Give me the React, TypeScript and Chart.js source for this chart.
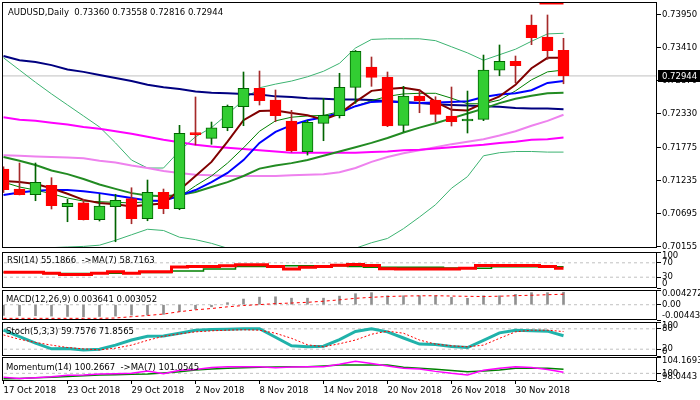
import React, { useEffect, useRef } from 'react';
import { Chart, registerables } from 'chart.js';

Chart.register(...registerables);

const FONT = 'DejaVu Sans';
const FS = 8.5;

// ---------- price data (daily bars, 17 Oct 2018 .. 5 Dec 2018) ----------
const opens = [0.71424, 0.71097, 0.71004, 0.71158, 0.70808, 0.70873, 0.70596, 0.70808, 0.70939, 0.70612, 0.71043, 0.70775, 0.72017, 0.71925, 0.72098, 0.72441, 0.72742, 0.72550, 0.72208, 0.71706, 0.72170, 0.72294, 0.72758, 0.73089, 0.72921, 0.72137, 0.72616, 0.72550, 0.72289, 0.72208, 0.72235, 0.73036, 0.73182, 0.73775, 0.73579, 0.73360];
const highs = [0.71460, 0.71522, 0.71522, 0.71282, 0.70929, 0.70930, 0.71011, 0.71011, 0.71118, 0.71244, 0.71097, 0.72137, 0.72600, 0.72191, 0.72469, 0.73008, 0.73024, 0.72714, 0.72382, 0.72220, 0.72578, 0.72987, 0.73360, 0.73253, 0.73008, 0.72774, 0.72714, 0.72604, 0.72763, 0.72697, 0.73285, 0.73449, 0.73269, 0.73939, 0.73939, 0.73558];
const lows = [0.71040, 0.71000, 0.70906, 0.70771, 0.70563, 0.70591, 0.70575, 0.70236, 0.70530, 0.70579, 0.70694, 0.70759, 0.71816, 0.71827, 0.72049, 0.72131, 0.72469, 0.72196, 0.71701, 0.71652, 0.71886, 0.72257, 0.72497, 0.72774, 0.72115, 0.72033, 0.72343, 0.72196, 0.72126, 0.72012, 0.72213, 0.72947, 0.72833, 0.73454, 0.73215, 0.72816];
const closes = [0.71086, 0.71004, 0.71207, 0.70824, 0.70864, 0.70596, 0.70820, 0.70913, 0.70612, 0.71043, 0.70775, 0.72007, 0.71984, 0.72098, 0.72448, 0.72742, 0.72539, 0.72294, 0.71723, 0.72186, 0.72301, 0.72758, 0.73346, 0.72921, 0.72126, 0.72616, 0.72534, 0.72317, 0.72196, 0.72240, 0.73040, 0.73182, 0.73111, 0.73568, 0.73356, 0.72944];

// ---------- main-chart indicators ----------
const maNavy = [0.7327, 0.7320, 0.7317, 0.7312, 0.7305, 0.7301, 0.7296, 0.7291, 0.7286, 0.7280, 0.7276, 0.7273, 0.7269, 0.7267, 0.7266, 0.7265, 0.7264, 0.7261, 0.7260, 0.7258, 0.7257, 0.7256, 0.7256, 0.7255, 0.7253, 0.7252, 0.7250, 0.7248, 0.7247, 0.7246, 0.7245, 0.7244, 0.7242, 0.7241, 0.7241, 0.7240];
const maMagenta = [0.7227, 0.7223, 0.7221, 0.7218, 0.7215, 0.7211, 0.7208, 0.7204, 0.7200, 0.7195, 0.7190, 0.7186, 0.7182, 0.7179, 0.7177, 0.7175, 0.7173, 0.7171, 0.7169, 0.7169, 0.7169, 0.7169, 0.7169, 0.7170, 0.7171, 0.7173, 0.7174, 0.7176, 0.7178, 0.7180, 0.7182, 0.7185, 0.7187, 0.7190, 0.7191, 0.7194];
const maViolet = [0.7165, 0.7164, 0.7163, 0.7162, 0.7161, 0.7160, 0.7156, 0.7153, 0.7148, 0.7144, 0.7139, 0.7136, 0.7133, 0.7132, 0.7131, 0.7131, 0.7131, 0.7131, 0.7132, 0.7133, 0.7134, 0.7137, 0.7144, 0.7154, 0.7162, 0.7168, 0.7173, 0.7178, 0.7183, 0.7187, 0.7191, 0.7197, 0.7204, 0.7213, 0.7221, 0.7231];
const maBlue = [0.7100, 0.7104, 0.7107, 0.7108, 0.7108, 0.7106, 0.7103, 0.7099, 0.7095, 0.7091, 0.7090, 0.7099, 0.7108, 0.7121, 0.7136, 0.7157, 0.7185, 0.7203, 0.7214, 0.7222, 0.7227, 0.7234, 0.7245, 0.7252, 0.7253, 0.7251, 0.7250, 0.7251, 0.7252, 0.7253, 0.7260, 0.7264, 0.7266, 0.7271, 0.7283, 0.7286];
const maMaroon = [0.7123, 0.7121, 0.7118, 0.7111, 0.7102, 0.7092, 0.7087, 0.7085, 0.7081, 0.7084, 0.7086, 0.7108, 0.7131, 0.7154, 0.7187, 0.7222, 0.7237, 0.7238, 0.7234, 0.7230, 0.7223, 0.7233, 0.7252, 0.7270, 0.7273, 0.7275, 0.7271, 0.7252, 0.7239, 0.7238, 0.7250, 0.7261, 0.7280, 0.7307, 0.7324, 0.7324];
const bbMid = [0.7162, 0.7156, 0.7149, 0.7140, 0.7134, 0.7126, 0.7117, 0.7110, 0.7103, 0.7099, 0.7098, 0.7100, 0.7105, 0.7113, 0.7121, 0.7131, 0.7143, 0.7148, 0.7152, 0.7157, 0.7164, 0.7171, 0.7178, 0.7185, 0.7193, 0.7202, 0.7210, 0.7217, 0.7225, 0.7233, 0.7241, 0.7250, 0.7257, 0.7262, 0.7266, 0.7267];
const maThinGreen = [0.7121, 0.7113, 0.7108, 0.7102, 0.7095, 0.7090, 0.7089, 0.7088, 0.7087, 0.7089, 0.7092, 0.7097, 0.7115, 0.7131, 0.7152, 0.7177, 0.7204, 0.7221, 0.7227, 0.7229, 0.7230, 0.7236, 0.7245, 0.7254, 0.7261, 0.7265, 0.7266, 0.7266, 0.7258, 0.7249, 0.7249, 0.7255, 0.7270, 0.7288, 0.7301, 0.7304];
const bbUpper = [0.7324, 0.7304, 0.7284, 0.7265, 0.7247, 0.7229, 0.7211, 0.7185, 0.7157, 0.7144, 0.7144, 0.7172, 0.7195, 0.7210, 0.7232, 0.7255, 0.7275, 0.7281, 0.7286, 0.7293, 0.7302, 0.7315, 0.7340, 0.7354, 0.7355, 0.7355, 0.7355, 0.7352, 0.7342, 0.7332, 0.7320, 0.7329, 0.7338, 0.7351, 0.7363, 0.7364];
const bbLower = [0.7002, 0.7010, 0.7014, 0.7014, 0.7015, 0.7016, 0.7018, 0.7026, 0.7035, 0.7044, 0.7042, 0.7031, 0.7027, 0.7021, 0.7013, 0.7010, 0.7008, 0.7008, 0.7009, 0.7010, 0.7011, 0.7012, 0.7013, 0.7022, 0.7029, 0.7045, 0.7064, 0.7084, 0.7111, 0.7130, 0.7164, 0.7169, 0.7171, 0.7171, 0.7170, 0.7170];
const topMarkIdx = [33.5, 35];
const topMarkVal = 0.74127;

const priceTicks = [0.70155, 0.70695, 0.71235, 0.71775, 0.7233, 0.7287, 0.7341, 0.7395];
const priceMin = 0.70134;
const priceMax = 0.74151;
const lastPrice = closes[closes.length - 1];

// ---------- RSI ----------
const rsi = [44, 44, 44, 41, 37.5, 37.5, 41, 45, 41, 45, 45, 58, 60, 60, 62, 64.4, 64.4, 60, 53, 57.8, 60, 63, 65.3, 62.5, 53.3, 53, 53, 53, 53, 55, 62.5, 62.5, 62.5, 62.5, 60, 55.1866];
const rsiMa = [44, 44, 44, 40, 40, 40, 41, 41, 41, 43, 43, 47, 47, 53, 53, 60, 60, 61.6, 61.6, 61.6, 61.6, 61.6, 60, 57.8, 57.8, 57.8, 57.8, 57.8, 55.5, 55, 55, 58.7, 58.7, 58.7, 58.7, 58.7163];
const rsiTicks = [100, 70, 30, 0];
const rsiLevels = [70, 30];

// ---------- MACD ----------
const macd = [-0.0031, -0.0032, -0.0032, -0.0033, -0.0034, -0.0035, -0.0034, -0.0033, -0.0030, -0.0030, -0.0028, -0.0020, -0.0013, -0.0006, 0.0006, 0.00165, 0.0022, 0.0023, 0.0019, 0.0019, 0.0019, 0.0025, 0.0032, 0.0035, 0.0026, 0.0026, 0.0026, 0.0026, 0.00215, 0.00186, 0.0026, 0.0026, 0.0030, 0.0035, 0.0035, 0.003641];
const macdSignal = [-0.00395, -0.00395, -0.00395, -0.00395, -0.00395, -0.00395, -0.00395, -0.00386, -0.00348, -0.00313, -0.0027, -0.00203, -0.00148, -0.0011, -0.00061, -0.00023, 0.00003, 0.00032, 0.00049, 0.0007, 0.00102, 0.00142, 0.00186, 0.00215, 0.00238, 0.00252, 0.00258, 0.00261, 0.00252, 0.00244, 0.00238, 0.00247, 0.00262, 0.00275, 0.0029, 0.003052];
const macdTicks = [0.004272, 0, -0.004433];
const macdTickLabels = ['0.004272', '0.00', '-0.004433'];

// ---------- Stochastic ----------
const stochMain = [76, 57, 38, 21, 22, 18, 20, 32, 47, 58, 59, 67, 76, 78, 79, 80, 80, 55, 30, 27, 29, 48, 72, 80, 71, 53, 35, 34, 28, 25, 46, 68, 76, 74, 73, 59.7576];
const stochSignal = [62, 49, 40, 32, 25, 21, 18, 23, 32, 46, 58, 65, 71, 74, 76, 77, 76, 67, 52, 33, 27, 36, 47, 64, 73, 67, 47, 35, 30, 27, 32, 52, 71, 76, 76, 71.8565];
const stochTicks = [100, 80, 20, 0];
const stochLevels = [80, 20];

// ---------- Momentum ----------
const momentum = [99.0, 98.7, 98.9, 99.1, 99.5, 99.6, 99.8, 99.9, 100.0, 100.6, 99.9, 100.8, 101.0, 101.5, 101.7, 101.7, 101.7, 101.4, 101.6, 101.7, 101.7, 102.3, 103.1, 102.5, 101.9, 101.3, 101.1, 100.5, 100.0, 99.6, 100.8, 101.3, 101.7, 101.5, 101.0, 100.2667];
const momentumMa = [98.6, 98.7, 98.85, 99.0, 99.2, 99.4, 99.58, 99.65, 99.75, 99.83, 100.1, 100.42, 100.85, 101.1, 101.29, 101.4, 101.54, 101.6, 101.69, 101.69, 101.9, 102.13, 102.13, 102.13, 102.13, 101.54, 101.3, 101.03, 100.7, 100.42, 100.6, 100.85, 101.29, 101.29, 101.29, 101.0545];
const momTicks = [104.1693, 100, 98.0443];
const momTickLabels = ['104.1693', '100', '98.0443'];
const momLevels = [100];

// ---------- date axis ----------
const dateTickIdx = [0, 4, 8, 12, 16, 20, 24, 28, 32];
const dateLabels = ['17 Oct 2018', '23 Oct 2018', '29 Oct 2018', '2 Nov 2018', '8 Nov 2018', '14 Nov 2018', '20 Nov 2018', '26 Nov 2018', '30 Nov 2018'];

// ---------- layout ----------
const X_MIN = -0.09375;
const X_MAX = 40.84375;
const AXIS_W = 43;

const pts = (arr: number[]) => arr.map((y, x) => ({ x, y }));

const lineDs = (data: number[], color: string, width: number, order: number, extra: any = {}) => ({
  type: 'line',
  data: pts(data),
  borderColor: color,
  borderWidth: width,
  pointRadius: 0,
  fill: false,
  tension: 0,
  clip: 0,
  order,
  ...extra,
});

const levelDs = (v: number) => ({
  type: 'line',
  data: [{ x: X_MIN - 1, y: v }, { x: X_MAX + 1, y: v }],
  borderColor: '#C0C0C0',
  borderWidth: 1,
  borderDash: [3, 3],
  pointRadius: 0,
  clip: 0,
  order: 50,
});

const xScale = (show: boolean) => ({
  type: 'linear',
  min: X_MIN,
  max: X_MAX,
  display: show,
  offset: false,
  grid: { display: show, offset: false, drawOnChartArea: false, drawTicks: true, tickLength: 3, tickColor: '#000', color: '#000' },
  border: { display: false },
  ticks: {
    autoSkip: false,
    maxRotation: 0,
    minRotation: 0,
    align: 'start',
    padding: 2,
    color: '#000',
    font: { family: FONT, size: FS },
    callback: (v: number) => {
      const k = dateTickIdx.indexOf(v);
      return k >= 0 ? dateLabels[k] : '';
    },
  },
  afterBuildTicks: (s: any) => {
    s.ticks = dateTickIdx.map((v) => ({ value: v }));
  },
  afterFit: (s: any) => {
    if (show) s.height = 19;
    s.paddingLeft = 0;
    s.paddingRight = 0;
  },
});

const yScale = (min: number, max: number, ticks: number[], label: (v: number, i: number) => string) => ({
  type: 'linear',
  position: 'right',
  min,
  max,
  grid: { drawOnChartArea: false, drawTicks: true, tickLength: 4, tickColor: '#000', color: '#000', tickWidth: 1 },
  border: { display: false },
  ticks: {
    autoSkip: false,
    padding: 1,
    color: '#000',
    font: { family: FONT, size: FS },
    callback: (v: number, i: number) => label(v, i),
  },
  afterBuildTicks: (s: any) => {
    s.ticks = ticks.map((v) => ({ value: v }));
  },
  afterFit: (s: any) => {
    s.width = AXIS_W;
    s.paddingTop = 0;
    s.paddingBottom = 0;
  },
});

const boxPlugin = {
  id: 'panelBox',
  afterDraw(chart: any) {
    const { ctx, chartArea: a } = chart;
    ctx.save();
    ctx.strokeStyle = '#000';
    ctx.lineWidth = 1;
    ctx.strokeRect(Math.round(a.left) + 0.5, Math.round(a.top) + 0.5, Math.round(a.right - a.left) - 1, Math.round(a.bottom - a.top) - 1);
    ctx.restore();
  },
};

// put the max label just inside the top edge and the min label just inside the bottom edge
const edgePlugin = {
  id: 'edgeLabels',
  beforeDraw(chart: any) {
    const s = chart.scales.y;
    if (!s || !s.getLabelItems) return;
    const items = s.getLabelItems();
    if (!items || items.length !== s.ticks.length) return;
    s.ticks.forEach((t: any, i: number) => {
      const it = items[i];
      if (!it || !it.options) return;
      if (t.value === s.max) it.options.textBaseline = 'top';
      if (t.value === s.min) it.options.textBaseline = 'bottom';
    });
  },
};

const priceTag = {
  id: 'priceTag',
  afterDraw(chart: any) {
    const { ctx, chartArea: a } = chart;
    const y = chart.scales.y.getPixelForValue(lastPrice);
    ctx.save();
    ctx.fillStyle = '#000';
    ctx.fillRect(a.right + 1, Math.round(y) - 6, AXIS_W, 12);
    ctx.fillStyle = '#fff';
    ctx.font = `${FS}px ${FONT}`;
    ctx.textBaseline = 'middle';
    ctx.textAlign = 'left';
    ctx.fillText(lastPrice.toFixed(5), a.right + 5, Math.round(y) + 0.5);
    ctx.restore();
  },
};

function panelConfig(datasets: any[], top: number, bottom: number, yMin: number, yMax: number, ticks: number[], label: (v: number, i: number) => string, withDates: boolean, plugins: any[]) {
  return {
    type: 'line',
    data: { datasets },
    options: {
      responsive: false,
      animation: false,
      events: [],
      layout: { padding: { left: 2, right: 0, top, bottom: withDates ? 0 : 400 - bottom } },
      plugins: { legend: { display: false }, tooltip: { enabled: false }, title: { display: false } },
      scales: { x: xScale(withDates), y: yScale(yMin, yMax, ticks, label) },
    },
    plugins,
  } as any;
}

const GREEN_FILL = '#32CD32';
const GREEN_LINE = '#006400';
const RED_FILL = '#FF0000';
const RED_WICK = '#A52A2A';

function mainConfig() {
  const up = opens.map((o, i) => closes[i] >= o);
  const datasets: any[] = [
    {
      type: 'bar',
      data: opens.map((o, i) => ({ x: i, y: [o, closes[i]] })),
      backgroundColor: up.map((u) => (u ? GREEN_FILL : RED_FILL)),
      borderColor: up.map((u) => (u ? GREEN_LINE : RED_FILL)),
      borderWidth: 1,
      borderSkipped: false,
      barThickness: 11,
      grouped: false,
      clip: 0,
      order: 0,
    },
    {
      type: 'bar',
      data: lows.map((l, i) => ({ x: i, y: [l, highs[i]] })),
      backgroundColor: up.map((u) => (u ? GREEN_LINE : RED_WICK)),
      borderWidth: 0,
      barThickness: 1,
      grouped: false,
      clip: 0,
      order: 1,
    },
    lineDs(maMaroon, '#800000', 2, 2),
    lineDs(maBlue, '#0000FF', 2, 3),
    lineDs(maThinGreen, '#008000', 1, 4),
    lineDs(bbMid, '#228B22', 2, 5),
    lineDs(maNavy, '#000080', 2, 6),
    lineDs(maMagenta, '#FF00FF', 2, 7),
    lineDs(maViolet, '#EE82EE', 2, 8),
    lineDs(bbUpper, '#3CB371', 1, 9),
    lineDs(bbLower, '#3CB371', 1, 10),
    {
      type: 'line',
      data: topMarkIdx.map((x) => ({ x, y: topMarkVal })),
      borderColor: '#FF0000',
      borderWidth: 2,
      pointRadius: 0,
      clip: 0,
      order: 11,
    },
    {
      type: 'line',
      data: [{ x: X_MIN - 1, y: lastPrice }, { x: X_MAX + 1, y: lastPrice }],
      borderColor: '#C0C0C0',
      borderWidth: 1,
      pointRadius: 0,
      clip: 0,
      order: 12,
    },
  ];
  return panelConfig(datasets, 2, 248, priceMin, priceMax, priceTicks, (v) => Number(v).toFixed(5), false, [boxPlugin, priceTag]);
}

function rsiConfig() {
  const datasets: any[] = [
    lineDs(rsi, '#FF0000', 3, 1, { stepped: 'middle' }),
    lineDs(rsiMa, '#008000', 1.5, 2, { stepped: 'middle' }),
    ...rsiLevels.map(levelDs),
  ];
  return panelConfig(datasets, 252, 288, 0, 100, rsiTicks, (v) => String(v), false, [boxPlugin, edgePlugin]);
}

function macdConfig() {
  const datasets: any[] = [
    {
      type: 'bar',
      data: pts(macd),
      backgroundColor: '#909090',
      borderWidth: 0,
      barThickness: 2,
      grouped: false,
      clip: 0,
      order: 2,
    },
    lineDs(macdSignal, '#FF0000', 1, 1, { borderDash: [3, 3] }),
    levelDs(0),
  ];
  return panelConfig(datasets, 290, 320, macdTicks[2], macdTicks[0], macdTicks, (v, i) => macdTickLabels[i] ?? '', false, [boxPlugin, edgePlugin]);
}

function stochConfig() {
  const datasets: any[] = [
    lineDs(stochMain, '#20B2AA', 3, 2),
    lineDs(stochSignal, '#FF0000', 1, 1, { borderDash: [2, 2] }),
    ...stochLevels.map(levelDs),
  ];
  return panelConfig(datasets, 322, 356, 0, 100, stochTicks, (v) => String(v), false, [boxPlugin, edgePlugin]);
}

function momConfig() {
  const datasets: any[] = [
    lineDs(momentum, '#FF00FF', 1.5, 1),
    lineDs(momentumMa, '#008000', 1.5, 2),
    ...momLevels.map(levelDs),
  ];
  return panelConfig(datasets, 357, 381, momTicks[2], momTicks[0], momTicks, (v, i) => momTickLabels[i] ?? '', true, [boxPlugin, edgePlugin]);
}

const labelStyle = (left: number, top: number): React.CSSProperties => ({
  position: 'absolute',
  left,
  top,
  fontFamily: FONT,
  fontSize: FS,
  lineHeight: '10px',
  whiteSpace: 'pre',
  color: '#000',
  pointerEvents: 'none',
});

export default function App() {
  const refs = [
    useRef<HTMLCanvasElement>(null),
    useRef<HTMLCanvasElement>(null),
    useRef<HTMLCanvasElement>(null),
    useRef<HTMLCanvasElement>(null),
    useRef<HTMLCanvasElement>(null),
  ];

  useEffect(() => {
    Chart.defaults.font.family = FONT;
    Chart.defaults.font.size = FS;
    Chart.defaults.color = '#000';
    const builders = [mainConfig, rsiConfig, macdConfig, stochConfig, momConfig];
    const charts: Chart[] = [];
    builders.forEach((b, k) => {
      const c = refs[k].current;
      if (c) charts.push(new Chart(c, b()));
    });
    return () => charts.forEach((c) => c.destroy());
  }, []);

  const n = closes.length - 1;
  const header = `AUDUSD,Daily  ${opens[n].toFixed(5)} ${highs[n].toFixed(5)} ${lows[n].toFixed(5)} ${closes[n].toFixed(5)}`;

  return (
    <div style={{ position: 'fixed', left: 0, top: 0, width: 700, height: 400, background: '#fff', overflow: 'hidden' }}>
      {refs.map((r, k) => (
        <canvas key={k} ref={r} width={700} height={400} style={{ position: 'absolute', left: 0, top: 0 }} />
      ))}
      <div style={labelStyle(8, 7)}>{header}</div>
      <div style={labelStyle(7, 255)}>{`RSI(14) ${rsi[n].toFixed(4)}  ->MA(7) ${rsiMa[n].toFixed(4)}`}</div>
      <div style={labelStyle(6, 294)}>{`MACD(12,26,9) ${macd[n].toFixed(6)} ${macdSignal[n].toFixed(6)}`}</div>
      <div style={labelStyle(6, 326)}>{`Stoch(5,3,3) ${stochMain[n].toFixed(4)} ${stochSignal[n].toFixed(4)}`}</div>
      <div style={labelStyle(6, 362)}>{`Momentum(14) ${momentum[n].toFixed(4)}  ->MA(7) ${momentumMa[n].toFixed(4)}`}</div>
    </div>
  );
}
